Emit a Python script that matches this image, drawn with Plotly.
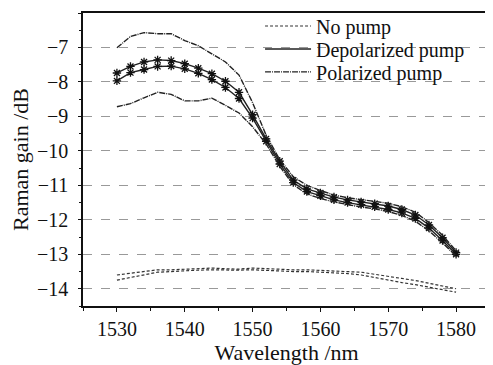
import plotly.graph_objects as go

wavelength = [1530, 1532, 1534, 1536, 1538, 1540, 1542, 1544, 1546, 1548, 1550, 1552, 1554,
              1556, 1558, 1560, 1562, 1564, 1566, 1568, 1570, 1572, 1574, 1576, 1578, 1580]

pol_parallel = [-7.01, -6.68, -6.57, -6.60, -6.60, -6.80, -6.95, -7.18, -7.42, -7.80, -8.60, -9.55, -10.25,
                -10.75, -11.00, -11.15, -11.28, -11.36, -11.42, -11.46, -11.52, -11.62, -11.78, -12.08, -12.45, -12.90]
depol_a = [-7.74, -7.55, -7.42, -7.36, -7.38, -7.47, -7.60, -7.76, -7.98, -8.30, -8.95, -9.65, -10.30,
           -10.85, -11.10, -11.22, -11.34, -11.42, -11.48, -11.53, -11.60, -11.70, -11.86, -12.15, -12.52, -12.95]
depol_b = [-7.97, -7.73, -7.64, -7.55, -7.54, -7.62, -7.75, -7.93, -8.16, -8.48, -9.05, -9.72, -10.38,
           -10.92, -11.18, -11.30, -11.42, -11.50, -11.56, -11.62, -11.70, -11.80, -11.96, -12.24, -12.60, -13.00]
pol_orthogonal = [-8.72, -8.63, -8.46, -8.30, -8.36, -8.55, -8.55, -8.47, -8.68, -8.90, -9.30, -9.80, -10.45,
                  -10.98, -11.25, -11.38, -11.48, -11.56, -11.63, -11.68, -11.76, -11.87, -12.04, -12.32, -12.67, -13.05]
nopump_a = [-13.60, -13.55, -13.50, -13.45, -13.45, -13.43, -13.42, -13.40, -13.42, -13.43, -13.40, -13.42, -13.45,
            -13.45, -13.45, -13.47, -13.47, -13.50, -13.52, -13.58, -13.65, -13.70, -13.76, -13.85, -13.92, -14.00]
nopump_b = [-13.75, -13.68, -13.60, -13.52, -13.50, -13.47, -13.46, -13.45, -13.46, -13.46, -13.45, -13.47, -13.50,
            -13.50, -13.50, -13.52, -13.53, -13.56, -13.60, -13.68, -13.75, -13.82, -13.88, -13.95, -14.03, -14.10]

y_ticks = [-14, -13, -12, -11, -10, -9, -8, -7, -6]
x_ticks = [1530, 1540, 1550, 1560, 1570, 1580]

FONT = "Liberation Serif"
INK = "#111"

fig = go.Figure()

# No pump
for i, ys in enumerate([nopump_a, nopump_b]):
    fig.add_trace(go.Scatter(x=wavelength, y=ys, mode="lines", name="No pump",
                             line=dict(color="#333", width=1.2, dash="3px,2px"),
                             legend="legend", legendgroup="np", showlegend=(i == 0)))
# Depolarized pump
for i, ys in enumerate([depol_a, depol_b]):
    fig.add_trace(go.Scatter(x=wavelength, y=ys, mode="lines+markers", name="Depolarized pump",
                             line=dict(color="#222", width=1.4),
                             marker=dict(symbol="asterisk-open", size=7, color=INK, line=dict(width=1.3, color=INK)),
                             legend="legend2", legendgroup="dp", showlegend=False))
fig.add_trace(go.Scatter(x=[None], y=[None], mode="lines", name="Depolarized pump",
                         line=dict(color="#222", width=1.6), legend="legend2", legendgroup="dp"))
# Polarized pump
for i, ys in enumerate([pol_parallel, pol_orthogonal]):
    fig.add_trace(go.Scatter(x=wavelength, y=ys, mode="lines", name="Polarized pump",
                             line=dict(color="#222", width=1.4, dash="6px,1px,1px,1px"),
                             legend="legend3", legendgroup="pp", showlegend=(i == 0)))

leg_common = dict(xanchor="left", yanchor="middle", x=0.435, bgcolor="rgba(0,0,0,0)", borderwidth=0,
                  font=dict(family=FONT, size=20, color="#111"), itemwidth=46)

fig.update_layout(
    width=493, height=365,
    margin=dict(l=75, r=11, t=5, b=67, autoexpand=False),
    paper_bgcolor="white", plot_bgcolor="white",
    font=dict(family=FONT, size=20, color="#111"),
    legend=dict(**leg_common, y=0.9556),
    legend2=dict(**leg_common, y=0.877),
    legend3=dict(**leg_common, y=0.799),
    xaxis=dict(range=[1525, 1585], tickvals=x_ticks, ticks="outside", ticklen=4, tickwidth=1,
               tickcolor="#111", showline=True, linecolor="#111", linewidth=1.5, mirror=True,
               showgrid=False, zeroline=False,
               minor=dict(dtick=5, tick0=1525, ticks="outside", ticklen=3, tickcolor="#111"),
               title=dict(text="Wavelength /nm", font=dict(size=22), standoff=4),
               tickfont=dict(size=20)),
    yaxis=dict(range=[-14.5, -6], tickvals=y_ticks, ticks="outside", ticklen=3, tickwidth=1,
               tickcolor="#111", showline=True, linecolor="#111", linewidth=1.5, mirror=True,
               showgrid=True, gridcolor="#999", griddash="dash", gridwidth=1, zeroline=False,
               minor=dict(dtick=0.5, tick0=-14.5, ticks="outside", ticklen=2, tickcolor="#111", showgrid=False),
               title=dict(text="Raman gain /dB", font=dict(size=22), standoff=2),
               tickfont=dict(size=20), ticklabelstandoff=6),
)

fig.write_html("out.html")
